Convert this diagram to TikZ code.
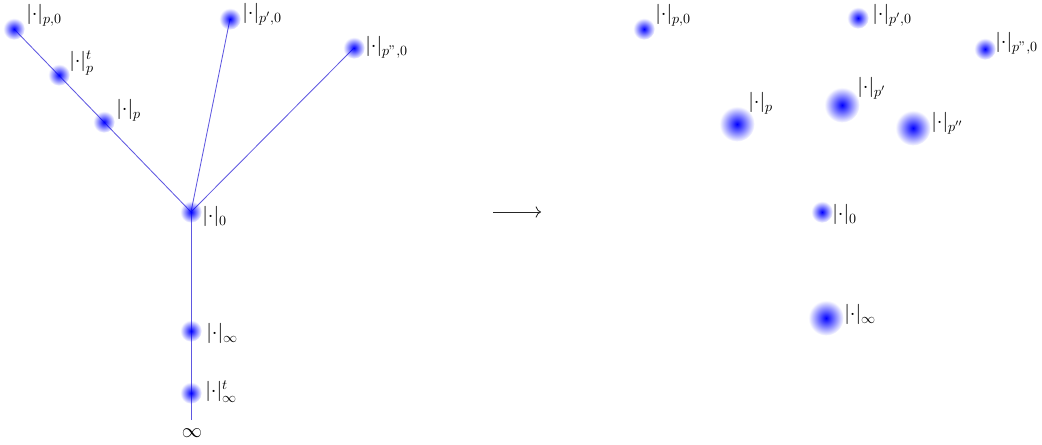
\documentclass[tikz,border=0pt]{standalone}
\usetikzlibrary{fadings,arrows.meta}
\tikzfading[name=fuzzy, inner color=transparent!0, outer color=transparent!100]
\begin{document}
\begin{tikzpicture}[x=0.025cm,y=-0.025cm,
  edge/.style={draw={rgb,255:red,95;green,88;blue,225}, line width=0.6pt},
  sdot/.style={fill=blue, path fading=fuzzy},
  lab/.style={anchor=base west, inner sep=0pt, font=\fontsize{14}{16}\selectfont},
  arr/.style={draw=black!85, line width=0.6pt, -{To[scale=1.3]}}]
\useasboundingbox (0,0) rectangle (1042,445);
% left tree coordinates
\coordinate (Lp0) at (14,29);
\coordinate (Lpt) at (59,75);
\coordinate (Lp) at (104,122);
\coordinate (Lq0) at (230,19);
\coordinate (Lr0) at (354,48);
\coordinate (L0) at (191,212);
\coordinate (Linf) at (191,331);
\coordinate (Linft) at (191,393);
\coordinate (Lend) at (191,420);
% edges
\draw[edge] (L0) -- (Lp0);
\draw[edge] (L0) -- (Lq0);
\draw[edge] (L0) -- (Lr0);
\draw[edge] (L0) -- (Lend);
% left dots
\foreach \c in {Lp0,Lpt,Lp,Lq0,Lr0,L0,Linf,Linft}
  \fill[sdot] (\c) circle (0.27cm);
% left labels
\node[lab] (tLp0) at (26,20) {$|{\cdot}|_{p,0}$};
\node[lab] (tLpt) at (69,67) {$|{\cdot}|_p^t$};
\node[lab] (tLp) at (116,115) {$|{\cdot}|_p$};
\node[lab] (tLq0) at (242,19) {$|{\cdot}|_{p',0}$};
\node[lab] (tLr0) at (365,52) {$|{\cdot}|_{p",0}$};
\node[lab] (tL0) at (202,222) {$|{\cdot}|_0$};
\node[lab] (tLinf) at (206,339) {$|{\cdot}|_\infty$};
\node[lab] (tLinft) at (205,397) {$|{\cdot}|_\infty^t$};
\node[inner sep=0pt, font=\fontsize{14}{16}\selectfont] (infsym) at (192,433) {$\infty$};
% arrow
\coordinate (A1) at (493,212);
\coordinate (A2) at (541,212);
\draw[arr] (A1) -- (A2);
% right dots
\coordinate (Rp0) at (644,29);
\coordinate (Rq0) at (858,18);
\coordinate (Rr0) at (985,49);
\coordinate (Rp) at (737,124);
\coordinate (Rq) at (842,105);
\coordinate (Rr) at (913,128);
\coordinate (R0) at (822,212);
\coordinate (Rinf) at (826,318);
\foreach \c in {Rp0,Rq0,Rr0,R0}
  \fill[sdot] (\c) circle (0.27cm);
\foreach \c in {Rp,Rq,Rr,Rinf}
  \fill[sdot] (\c) circle (0.44cm);
% right labels
\node[lab] (tRp0) at (655,20) {$|{\cdot}|_{p,0}$};
\node[lab] (tRq0) at (872,20) {$|{\cdot}|_{p',0}$};
\node[lab] (tRr0) at (995,48) {$|{\cdot}|_{p",0}$};
\node[lab] (tRp) at (748,108) {$|{\cdot}|_p$};
\node[lab] (tRq) at (857,93) {$|{\cdot}|_{p'}$};
\node[lab] (tRr) at (931,128) {$|{\cdot}|_{p''}$};
\node[lab] (tR0) at (832,220) {$|{\cdot}|_0$};
\node[lab] (tRinf) at (844,320) {$|{\cdot}|_\infty$};
\end{tikzpicture}
\end{document}
